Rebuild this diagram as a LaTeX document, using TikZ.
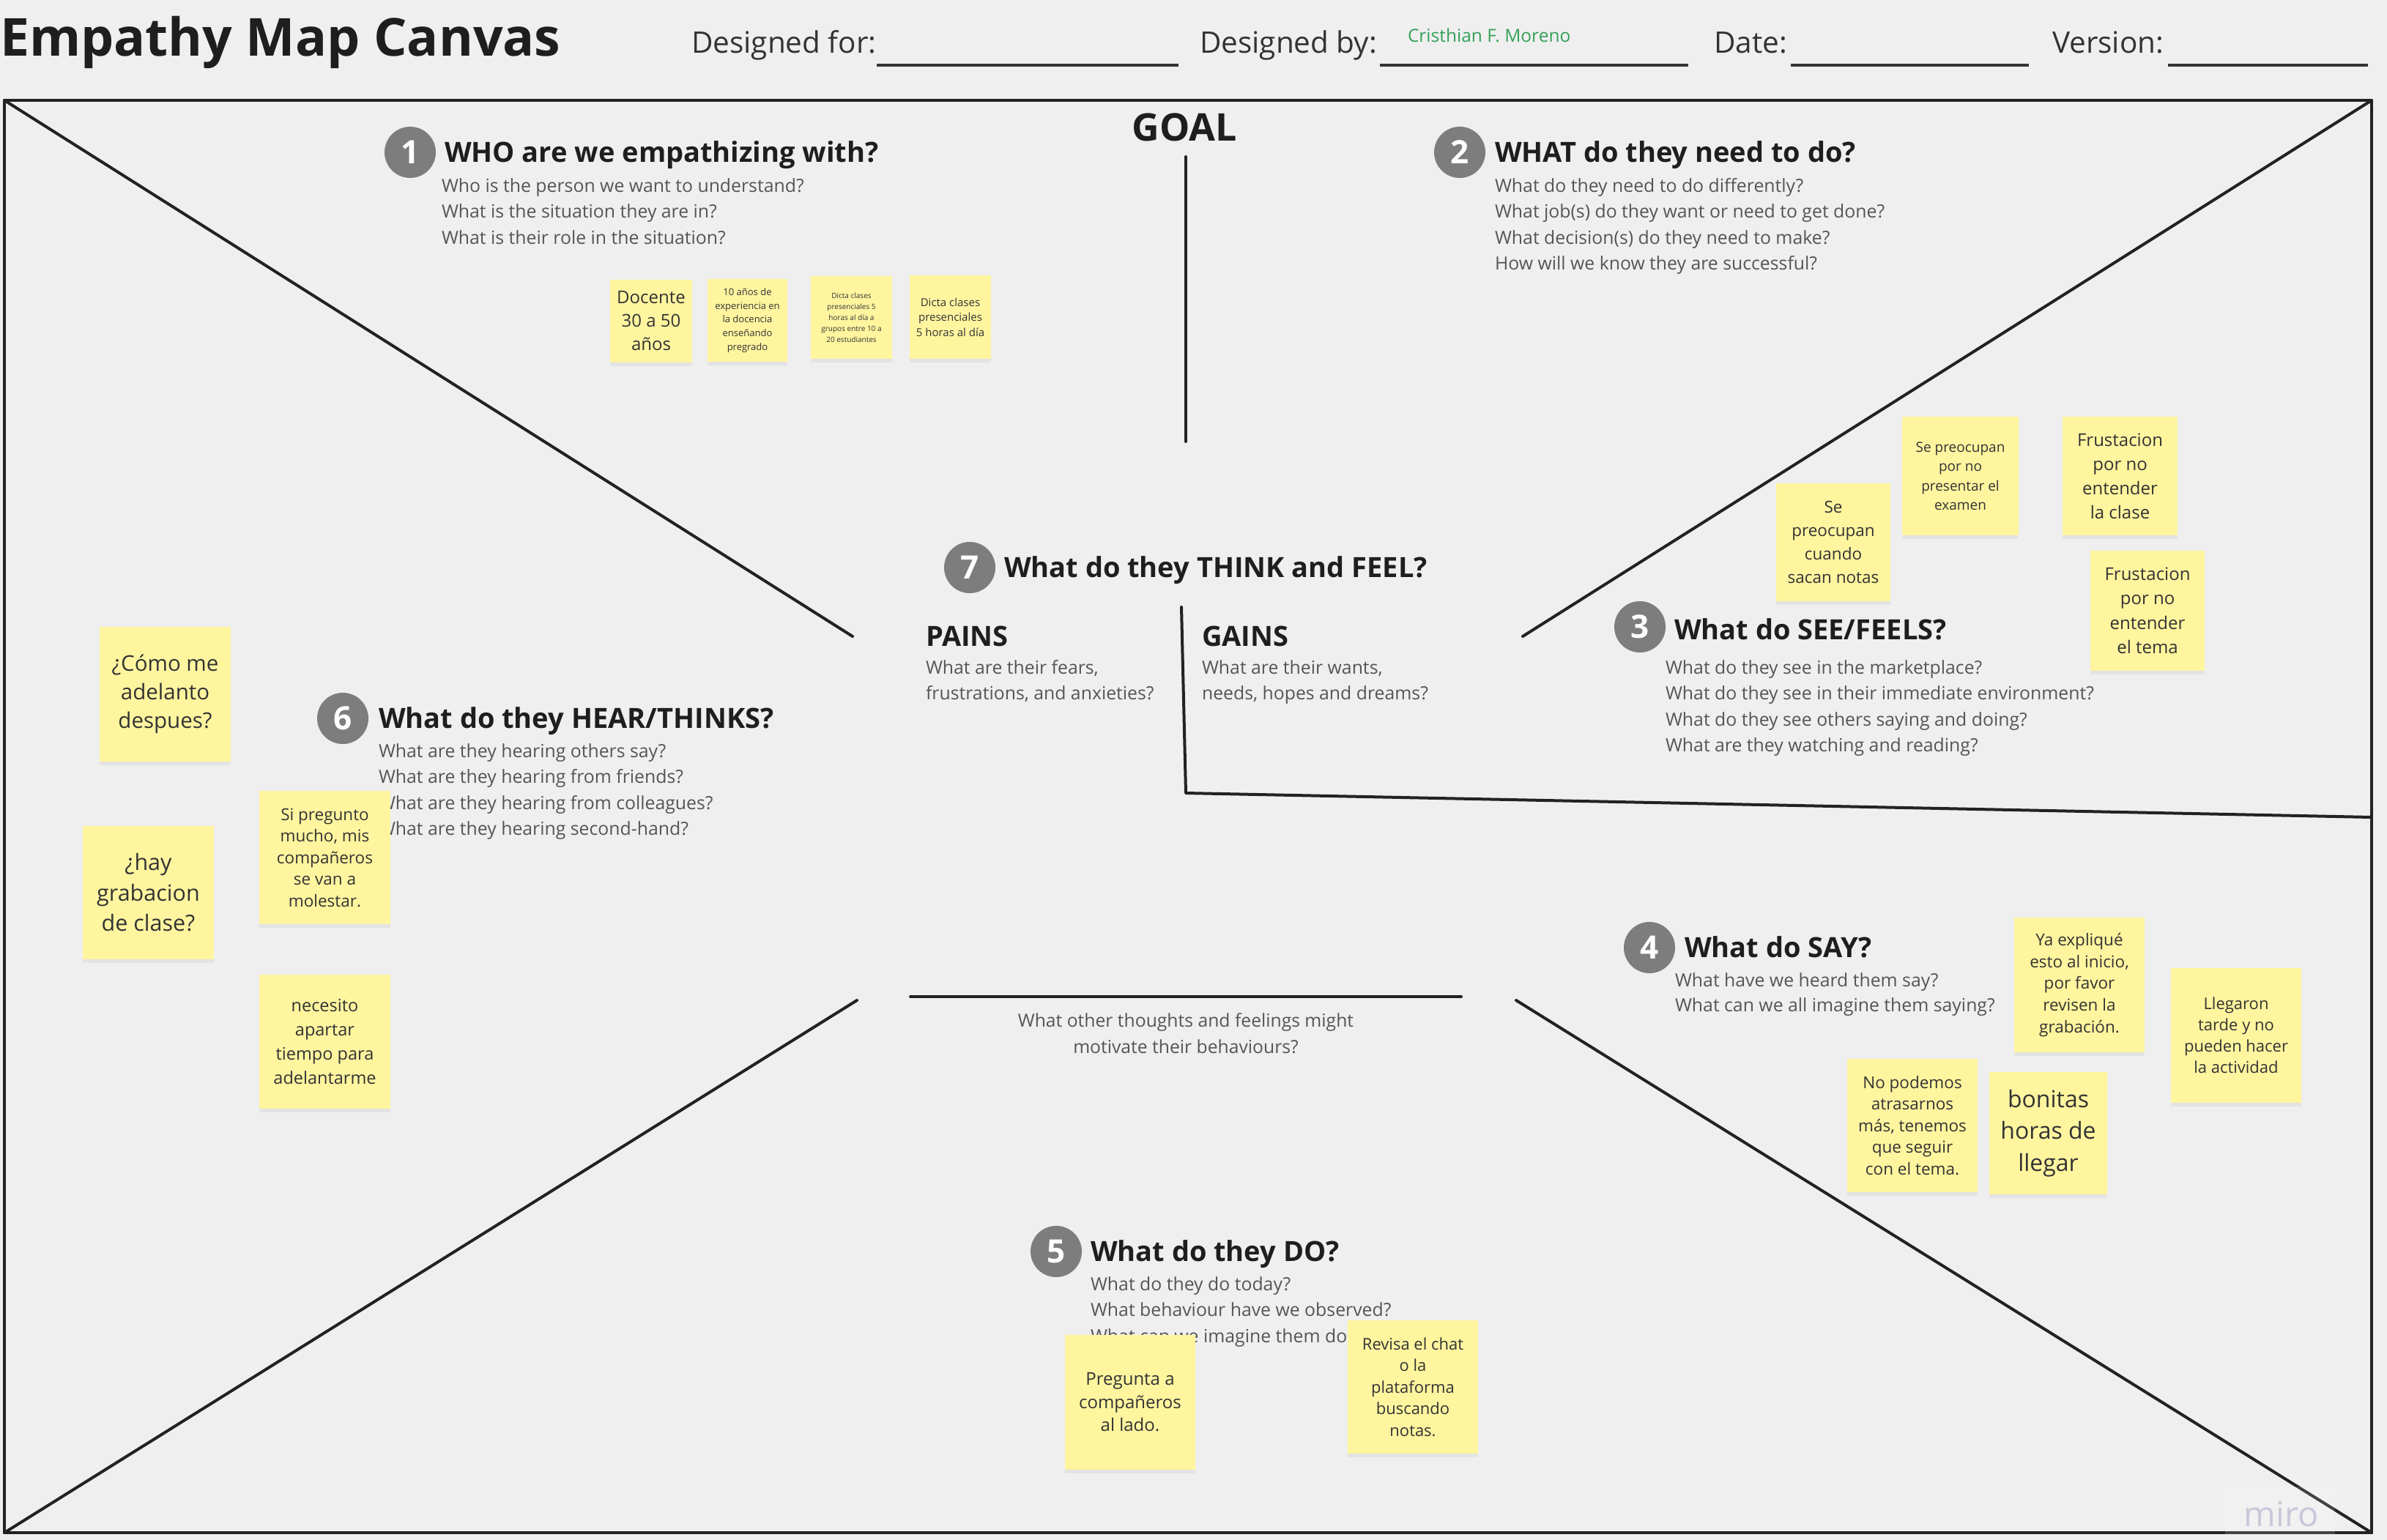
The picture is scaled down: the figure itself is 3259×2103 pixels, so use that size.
\documentclass[tikz,border=0pt]{standalone}
\usepackage{fontspec}
\setmainfont{Open Sans}
\usetikzlibrary{shadows}

\definecolor{canvasbg}{HTML}{EFEFEF}
\definecolor{inkline}{HTML}{222222}
\definecolor{headink}{HTML}{1E1E1E}
\definecolor{labelink}{HTML}{333333}
\definecolor{subink}{HTML}{555555}
\definecolor{noteyellow}{HTML}{FFF59F}
\definecolor{noteink}{HTML}{333333}
\definecolor{badge}{HTML}{7D7D7D}
\definecolor{authorgreen}{RGB}{52,160,88}
\definecolor{wmark}{RGB}{200,200,218}

\newcommand{\fsz}[2]{\fontsize{#1}{#2}\selectfont}

\begin{document}
\begin{tikzpicture}[x=1pt,y=-1pt,
  frameline/.style={draw=inkline,line width=4pt,line cap=round,line join=round},
  blankline/.style={draw=labelink,line width=4pt},
  txt/.style={inner sep=0pt,outer sep=0pt,anchor=base west},
  head/.style={txt,text=headink,font=\fsz{38}{45}\bfseries},
  % multi-line blocks are placed by the baseline of their last line
  sub/.style={txt,align=left,text=subink,font=\fsz{24.8}{35.5}},
  label/.style={txt,text=labelink,font=\fsz{40.5}{44}},
  badgec/.style={circle,fill=badge,minimum size=70pt,inner sep=0pt,text=white,font=\fsz{44}{44}\bfseries},
  note/.style={fill=noteyellow,inner sep=0pt,align=center,text=noteink,
    drop shadow={shadow xshift=0pt,shadow yshift=-5pt,opacity=0.10}},
]

% canvas
\useasboundingbox (0,0) rectangle (3259,2103);
\fill[canvasbg] (0,0) rectangle (3259,2103);

% header
\node[txt,text=headink,font=\fsz{71.5}{80}\bfseries] (title) at (0,77) {Empathy Map Canvas};
\node[label] (dfor) at (944,73) {Designed for:};
\node[label] (dby) at (1638,73) {Designed by:};
\node[label] (ddate) at (2340,73) {Date:};
\node[label] (dver) at (2802,73) {Version:};
\node[txt,text=authorgreen,font=\fsz{24.5}{28}] (author) at (1922,58) {Cristhian F. Moreno};
\coordinate (bfor1) at (1197,89);  \coordinate (bfor2) at (1609,89);
\coordinate (bby1) at (1884,89);   \coordinate (bby2) at (2305,89);
\coordinate (bdate1) at (2445,89); \coordinate (bdate2) at (2770,89);
\coordinate (bver1) at (2960,89);  \coordinate (bver2) at (3233,89);
\draw[blankline] (bfor1) -- (bfor2);
\draw[blankline] (bby1) -- (bby2);
\draw[blankline] (bdate1) -- (bdate2);
\draw[blankline] (bver1) -- (bver2);

% frame and dividers
\coordinate (tl) at (6,137);
\coordinate (tr) at (3238,137);
\coordinate (br) at (3238,2093);
\coordinate (bl) at (6,2093);
\coordinate (dtl) at (1164,869);
\coordinate (dtr) at (2079,869);
\coordinate (dbl) at (1170,1366);
\coordinate (dbr) at (2070,1366);
\coordinate (goaltop) at (1619,214);
\coordinate (goalbot) at (1619,603);
\coordinate (pgtop) at (1613,829);
\coordinate (pgbot) at (1619,1083);
\coordinate (sayedge) at (3238,1116);
\coordinate (barl) at (1243,1361);
\coordinate (barr) at (1995,1361);

\draw[frameline] (tl) rectangle (br);
\draw[frameline] (tl) -- (dtl);
\draw[frameline] (tr) -- (dtr);
\draw[frameline] (bl) -- (dbl);
\draw[frameline] (br) -- (dbr);
\draw[frameline] (goaltop) -- (goalbot);
\draw[frameline] (pgtop) -- (pgbot) -- (sayedge);
\draw[frameline] (barl) -- (barr);

% goal
\node[inner sep=0pt,anchor=base,text=headink,font=\fsz{52}{56}\bfseries] (goal) at (1617,193) {GOAL};

% 1 WHO
\node[badgec] (b1) at (560,208) {1};
\node[head] (h1) at (607,222) {WHO are we empathizing with?};
\node[sub] (s1) at (603,333) {Who is the person we want to understand?\\What is the situation they are in?\\What is their role in the situation?};

% 2 WHAT
\node[badgec] (b2) at (1993,208) {2};
\node[head] (h2) at (2041,222) {WHAT do they need to do?};
\node[sub] (s2) at (2041,368.5) {What do they need to do differently?\\What job(s) do they want or need to get done?\\What decision(s) do they need to make?\\How will we know they are successful?};

% 7 THINK and FEEL
\node[badgec] (b7) at (1324,775) {7};
\node[head] (h7) at (1371,788) {What do they THINK and FEEL?};
\node[head] (pains) at (1264,882) {PAINS};
\node[sub] (spains) at (1264,955.5) {What are their fears,\\frustrations, and anxieties?};
\node[head] (gains) at (1641,882) {GAINS};
\node[sub] (sgains) at (1641,955.5) {What are their wants,\\needs, hopes and dreams?};
\node[inner sep=0pt,anchor=base,align=center,text=subink,font=\fsz{24.7}{36}] (other) at (1619,1438) {What other thoughts and feelings might\\motivate their behaviours?};

% 3 SEE/FEELS
\node[badgec] (b3) at (2239,856) {3};
\node[head] (h3) at (2286,873) {What do SEE/FEELS?};
\node[sub] (s3) at (2274,1026.5) {What do they see in the marketplace?\\What do they see in their immediate environment?\\What do they see others saying and doing?\\What are they watching and reading?};

% 6 HEAR/THINKS
\node[badgec] (b6) at (468,981) {6};
\node[head] (h6) at (517,994) {What do they HEAR/THINKS?};
\node[sub] (s6) at (517,1140.5) {What are they hearing others say?\\What are they hearing from friends?\\What are they hearing from colleagues?\\What are they hearing second-hand?};

% 4 SAY
\node[badgec] (b4) at (2252,1294) {4};
\node[head] (h4) at (2300,1307) {What do SAY?};
\node[sub,font=\fsz{24.8}{34}] (s4) at (2287,1381) {What have we heard them say?\\What can we all imagine them saying?};

% 5 DO
\node[badgec] (b5) at (1442,1709) {5};
\node[head] (h5) at (1489,1722) {What do they DO?};
\node[sub] (s5) at (1489,1833) {What do they do today?\\What behaviour have we observed?\\What can we imagine them doing?};

% sticky notes: WHO
\node[note,minimum width=112pt,minimum height=113pt,font=\fsz{24}{32}] (n1a) at (889,438.5) {Docente\\30 a 50\\años};
\node[note,minimum width=109pt,minimum height=113pt,font=\fsz{13}{18.7}] (n1b) at (1020.5,437.5) {10 años de\\experiencia en\\la docencia\\enseñando\\pregrado};
\node[note,minimum width=111pt,minimum height=113pt,font=\fsz{10}{15}] (n1c) at (1162.5,433.5) {Dicta clases\\presenciales 5\\horas al día a\\grupos entre 10 a\\20 estudiantes};
\node[note,minimum width=111pt,minimum height=114pt,font=\fsz{15}{20.5}] (n1d) at (1297.5,433) {Dicta clases\\presenciales\\5 horas al día};

% sticky notes: SEE/FEELS
\node[note,minimum width=156pt,minimum height=161pt,font=\fsz{22.5}{32}] (n3a) at (2503,740.5) {Se\\preocupan\\cuando\\sacan notas};
\node[note,minimum width=159pt,minimum height=162pt,font=\fsz{19}{26.5}] (n3b) at (2676.5,650) {Se preocupan\\por no\\presentar el\\examen};
\node[note,minimum width=157pt,minimum height=162pt,font=\fsz{24}{33}] (n3c) at (2894.5,650) {Frustacion\\por no\\entender\\la clase};
\node[note,minimum width=156pt,minimum height=164pt,font=\fsz{24}{33.5}] (n3d) at (2932,834) {Frustacion\\por no\\entender\\el tema};

% sticky notes: HEAR/THINKS
\node[note,minimum width=179pt,minimum height=184pt,font=\fsz{29.5}{39}] (n6a) at (225.5,948) {¿Cómo me\\adelanto\\despues?};
\node[note,minimum width=179pt,minimum height=182pt,font=\fsz{30.5}{41.5}] (n6b) at (202.5,1219) {¿hay\\grabacion\\de clase?};
\node[note,minimum width=179pt,minimum height=182pt,font=\fsz{22.5}{29.5}] (n6c) at (443.5,1171) {Si pregunto\\mucho, mis\\compañeros\\se van a\\molestar.};
\node[note,minimum width=179pt,minimum height=183pt,font=\fsz{23.5}{32.7}] (n6d) at (443.5,1422.5) {necesito\\apartar\\tiempo para\\adelantarme};

% sticky notes: SAY
\node[note,minimum width=178pt,minimum height=184pt,font=\fsz{22.5}{29.7}] (n4a) at (2839,1345) {Ya expliqué\\esto al inicio,\\por favor\\revisen la\\grabación.};
\node[note,minimum width=178pt,minimum height=184pt,font=\fsz{22}{29}] (n4b) at (3053,1414) {Llegaron\\tarde y no\\pueden hacer\\la actividad};
\node[note,minimum width=178pt,minimum height=182pt,font=\fsz{22.5}{29.5}] (n4c) at (2611,1537) {No podemos\\atrasarnos\\más, tenemos\\que seguir\\con el tema.};
\node[note,minimum width=161pt,minimum height=167pt,font=\fsz{32}{43.5}] (n4d) at (2796.5,1547.5) {bonitas\\horas de\\llegar};

% sticky notes: DO
\node[note,minimum width=178pt,minimum height=184pt,font=\fsz{24}{31.5}] (n5a) at (1543,1915) {Pregunta a\\compañeros\\al lado.};
\node[note,minimum width=178pt,minimum height=182pt,font=\fsz{22}{29.5}] (n5b) at (1929,1894) {Revisa el chat\\o la\\plataforma\\buscando\\notas.};

% board watermark
\fill[white,opacity=0.15] (3038,2030) rectangle (3188,2095);
\node[inner sep=0pt,anchor=base,text=wmark,font=\fsz{47}{50}] (miro) at (3115,2084) {miro};

\end{tikzpicture}
\end{document}
